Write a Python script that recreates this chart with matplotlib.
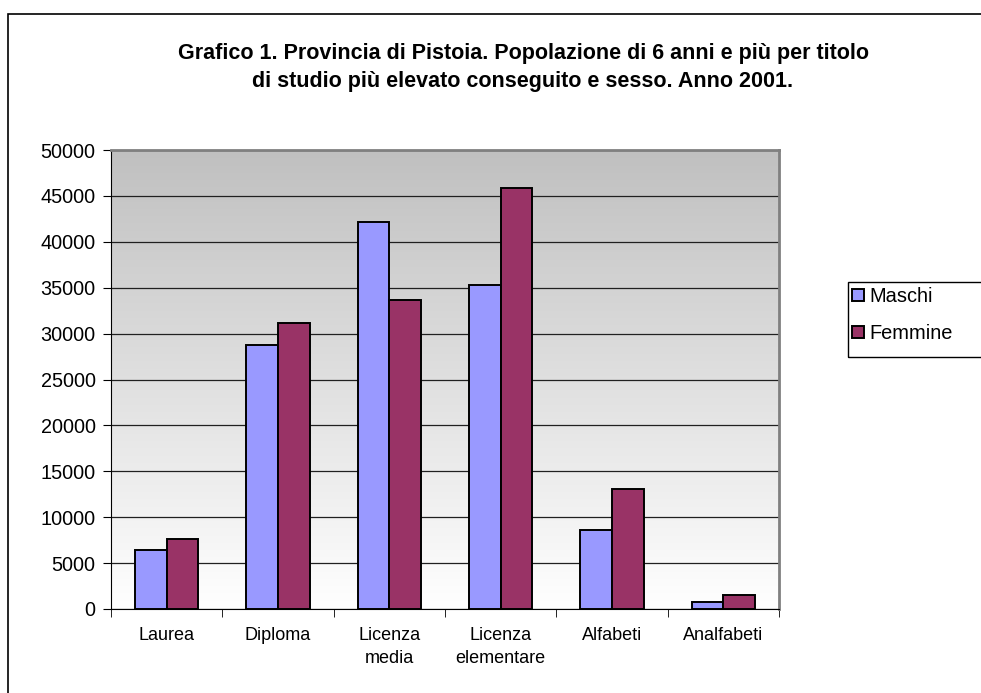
import matplotlib.pyplot as plt
import numpy as np
from matplotlib.patches import Rectangle
from matplotlib.colors import LinearSegmentedColormap

plt.rcParams['font.family'] = ['Liberation Sans', 'DejaVu Sans']

categories = ["Laurea", "Diploma", "Licenza\nmedia", "Licenza\nelementare", "Alfabeti", "Analfabeti"]
maschi = [6400, 28800, 42200, 35300, 8600, 730]
femmine = [7600, 31200, 33700, 45900, 13100, 1570]
yticks = list(range(0, 50001, 5000))

fig = plt.figure(figsize=(9.81, 6.93), dpi=100)
ax = fig.add_axes([111/981, 1 - 609/693, (779-111)/981, (609-150)/693])

# grey-to-white gradient behind the plot
grad = np.linspace(0, 1, 256).reshape(-1, 1)
cmap = LinearSegmentedColormap.from_list("g", ["#ffffff", "#c0c0c0"])
ax.imshow(grad, cmap=cmap, aspect='auto', extent=[-0.5, len(categories) - 0.5, 0, 50000],
          origin='lower', zorder=0)

x = np.arange(len(categories))
w = 0.283
ax.bar(x - w/2, maschi, w, color="#9999ff", edgecolor="black", linewidth=1.4, label="Maschi", zorder=3)
ax.bar(x + w/2, femmine, w, color="#993366", edgecolor="black", linewidth=1.4, label="Femmine", zorder=3)

ax.set_xlim(-0.5, len(categories) - 0.5)
ax.set_ylim(0, 50000)
ax.set_yticks(yticks)
ax.set_yticklabels([str(v) for v in yticks], fontsize=14.3)
ax.yaxis.grid(True, color="#202020", linewidth=0.9, zorder=1)

ax.set_xticks(x)
ax.set_xticklabels(categories, fontsize=13, linespacing=1.45)
ax.set_xticks(np.arange(-0.5, len(categories)), minor=True)
ax.tick_params(axis='x', which='major', length=0, pad=13)
ax.tick_params(axis='x', which='minor', length=6, direction='out', color='black')
ax.tick_params(axis='y', length=6, direction='out', color='black', pad=5)

for s in ['top', 'right']:
    ax.spines[s].set_color('#808080')
    ax.spines[s].set_linewidth(2)
ax.spines['left'].set_color('black')
ax.spines['bottom'].set_color('black')

fig.text(523/981, 1 - 53/693, "Grafico 1. Provincia di Pistoia. Popolazione di 6 anni e più per titolo",
         ha='center', va='center', fontsize=15.5, fontweight='bold')
fig.text(523/981, 1 - 81/693, "di studio più elevato conseguito e sesso. Anno 2001.",
         ha='center', va='center', fontsize=15.5, fontweight='bold')

# legend box runs past the right edge, as in the original
leg = ax.legend(loc='upper left', bbox_to_anchor=(848/981, 1 - 283/693), bbox_transform=fig.transFigure,
                fontsize=14.4, frameon=False, handlelength=0.6, handleheight=0.6,
                handletextpad=0.25, borderpad=0.2, labelspacing=0.9, borderaxespad=0)
fig.patches.append(Rectangle((848/981, 1 - 357/693), 0.3, 75/693, transform=fig.transFigure,
                             fill=False, edgecolor='black', linewidth=1.0))

fig.patches.append(Rectangle((8/981, -0.01), 1.0, 1 - 14/693 + 0.01, transform=fig.transFigure,
                             fill=False, edgecolor='black', linewidth=1.2))

fig.savefig("out.png", dpi=100)
